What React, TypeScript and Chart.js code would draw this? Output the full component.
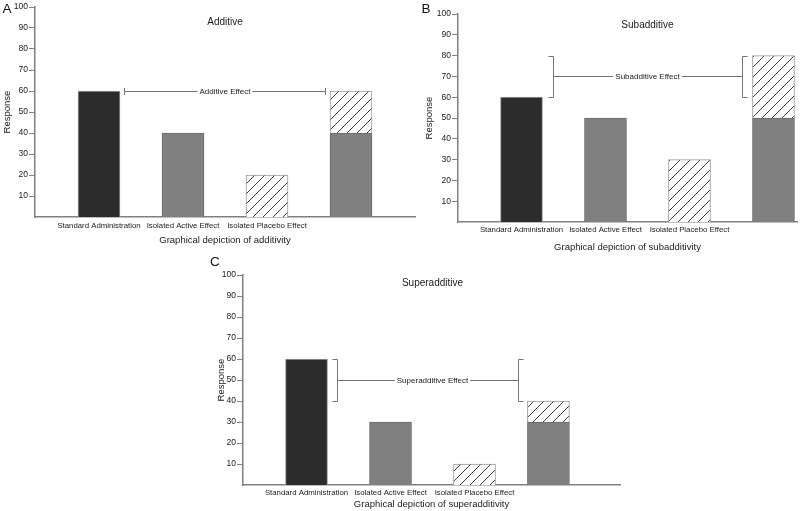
import React, { useEffect, useRef } from 'react';
import { Chart, registerables } from 'chart.js';

Chart.register(...registerables);

// ---------- data ----------
const categories = ['Standard Administration', 'Isolated Active Effect', 'Isolated Placebo Effect'];
const panelLetters = ['A', 'B', 'C'];
const panelTitles = ['Additive', 'Subadditive', 'Superadditive'];
const effectLabels = ['Additive Effect', 'Subadditive Effect', 'Superadditive Effect'];
const xAxisTitles = [
  'Graphical depiction of additivity',
  'Graphical depiction of subadditivity',
  'Graphical depiction of superadditivity',
];
const yAxisTitle = 'Response';
const yMin = 0;
const yMax = 100;
const yStep = 10;

const standardValues = [60, 60, 60];
const activeValues = [40, 50, 30];
const placeboValues = [20, 30, 10];

// x slots of the four bars (standard, active, placebo, combined)
const barSlotsA = [1, 2, 3, 4];
const barSlotsB = [1, 2, 3, 4];
const barSlotsC = [1, 2, 3, 3.88];
// x extent of the effect annotation
const effectSpanA = [1.3, 3.69];
const effectSpanB = [1.375, 3.63];
const effectSpanC = [1.363, 3.518];

// ---------- styles ----------
const FONT = 'Liberation Sans, Arial, Helvetica, sans-serif';
const TEXT = '#1a1a1a';
const AXIS = '#808080';
const LINE = '#747474';
const DARK = '#2c2c2c';
const GRAY = '#808080';

Chart.defaults.font.family = FONT;

interface PanelCfg {
  idx: number;
  slots: number[];
  span: number[];
  box: { left: number; top: number; width: number; height: number };
  pad: { left: number; right: number; top: number; bottom: number };
  yAxisWidth: number;
  xAxisHeight: number;
  xMin: number;
  xMax: number;
  tickPad: number;
  xTitlePad: number;
  yTitlePad: number;
  titleDy: number;
  letterPos: { x: number; y: number };
}

const panels: PanelCfg[] = [
  {
    idx: 0, slots: barSlotsA, span: effectSpanA,
    box: { left: 0, top: 0, width: 420, height: 250 },
    pad: { left: 0, right: 5, top: 7, bottom: 0 },
    yAxisWidth: 35, xAxisHeight: 33, xMin: 0.238, xMax: 4.762,
    tickPad: 4.3, xTitlePad: 4.3, yTitlePad: 1.3, titleDy: 15,
    letterPos: { x: 2.5, y: 2.5 },
  },
  {
    idx: 1, slots: barSlotsB, span: effectSpanB,
    box: { left: 420, top: 0, width: 380, height: 260 },
    pad: { left: 0, right: 3, top: 14, bottom: 0 },
    yAxisWidth: 38, xAxisHeight: 38, xMin: 0.244, xMax: 4.28,
    tickPad: 3.3, xTitlePad: 7.3, yTitlePad: 3.3, titleDy: 11.7,
    letterPos: { x: 1.5, y: 3 },
  },
  {
    idx: 2, slots: barSlotsC, span: effectSpanC,
    box: { left: 205, top: 250, width: 420, height: 261 },
    pad: { left: 0, right: 5, top: 25, bottom: 0 },
    yAxisWidth: 38, xAxisHeight: 26, xMin: 0.244, xMax: 4.732,
    tickPad: 3.6, xTitlePad: 1.3, yTitlePad: 10.8, titleDy: 8,
    letterPos: { x: 5, y: 5.5 },
  },
];

function makeHatch(ctx: CanvasRenderingContext2D): CanvasPattern | string {
  const p = document.createElement('canvas');
  p.width = 10;
  p.height = 10;
  const c = p.getContext('2d');
  if (!c) return '#fff';
  c.fillStyle = '#ffffff';
  c.fillRect(0, 0, 10, 10);
  c.strokeStyle = '#3a3a3a';
  c.lineWidth = 1;
  c.beginPath();
  c.moveTo(0, 10); c.lineTo(10, 0);
  c.moveTo(-5, 5); c.lineTo(5, -5);
  c.moveTo(5, 15); c.lineTo(15, 5);
  c.stroke();
  return ctx.createPattern(p, 'repeat') || '#fff';
}

function Panel({ cfg }: { cfg: PanelCfg }) {
  const ref = useRef<HTMLCanvasElement | null>(null);

  useEffect(() => {
    const canvas = ref.current;
    if (!canvas) return;
    const ctx0 = canvas.getContext('2d') as CanvasRenderingContext2D;
    const hatch = makeHatch(ctx0);
    const i = cfg.idx;
    const s = cfg.slots;
    const std = standardValues[i];
    const act = activeValues[i];
    const plc = placeboValues[i];

    const annot = {
      id: 'annot' + i,
      afterDatasetsDraw(chart: any) {
        const { ctx, chartArea, scales } = chart;
        const x = scales.x;
        const y = scales.y;
        ctx.save();
        // panel title
        ctx.fillStyle = TEXT;
        ctx.font = `10px ${FONT}`;
        ctx.textAlign = 'center';
        ctx.textBaseline = 'middle';
        const cx = x.getPixelForValue(2.5);
        ctx.fillText(panelTitles[i], cx, chartArea.top + cfg.titleDy);

        // effect annotation
        const combined = act + plc;
        const lo = Math.min(std, combined);
        const hi = Math.max(std, combined);
        const xl = Math.round(x.getPixelForValue(cfg.span[0])) + 0.5;
        const xr = Math.round(x.getPixelForValue(cfg.span[1])) + 0.5;
        const yLo = Math.round(y.getPixelForValue(lo)) + 0.5;
        const yHi = Math.round(y.getPixelForValue(hi)) + 0.5;
        const ym = Math.round(y.getPixelForValue((lo + hi) / 2)) + 0.5;
        ctx.strokeStyle = LINE;
        ctx.lineWidth = 1;
        ctx.beginPath();
        if (hi - lo < 1e-9) {
          ctx.moveTo(xl, ym - 3.5); ctx.lineTo(xl, ym + 3.5);
          ctx.moveTo(xr, ym - 3.5); ctx.lineTo(xr, ym + 3.5);
        } else {
          ctx.moveTo(xl - 5, yHi); ctx.lineTo(xl, yHi); ctx.lineTo(xl, yLo); ctx.lineTo(xl - 5, yLo);
          ctx.moveTo(xr + 5, yHi); ctx.lineTo(xr, yHi); ctx.lineTo(xr, yLo); ctx.lineTo(xr + 5, yLo);
        }
        ctx.font = `8px ${FONT}`;
        const w = ctx.measureText(effectLabels[i]).width;
        ctx.moveTo(xl, ym); ctx.lineTo(cx - w / 2 - 2, ym);
        ctx.moveTo(cx + w / 2 + 2, ym); ctx.lineTo(xr, ym);
        ctx.stroke();
        ctx.fillText(effectLabels[i], cx, ym);

        // panel letter
        ctx.font = `13.5px ${FONT}`;
        ctx.textAlign = 'left';
        ctx.textBaseline = 'top';
        ctx.fillStyle = '#111';
        ctx.fillText(panelLetters[i], cfg.letterPos.x, cfg.letterPos.y);
        ctx.restore();
      },
    };

    const chart = new Chart(canvas, {
      type: 'bar',
      data: {
        datasets: [
          {
            label: categories[0],
            data: [{ x: s[0], y: std }],
            backgroundColor: DARK,
            borderColor: '#9a9a9a',
            borderWidth: 1,
          },
          {
            label: categories[1],
            data: [{ x: s[1], y: act }, { x: s[3], y: act }],
            backgroundColor: GRAY,
            borderColor: '#6a6a6a',
            borderWidth: 1,
          },
          {
            label: categories[2],
            data: [{ x: s[2], y: plc }, { x: s[3], y: plc }],
            backgroundColor: hatch as any,
            borderColor: '#9a9a9a',
            borderWidth: 1,
          },
        ],
      },
      options: {
        animation: false,
        responsive: false,
        devicePixelRatio: 1,
        barThickness: 42,
        layout: { padding: cfg.pad },
        plugins: {
          legend: { display: false },
          tooltip: { enabled: false },
          title: { display: false },
        },
        scales: {
          x: {
            type: 'linear',
            stacked: true,
            offset: false,
            min: cfg.xMin,
            max: cfg.xMax,
            grid: { display: false, drawTicks: false, offset: false },
            border: { display: true, color: AXIS, width: 1.5 },
            afterBuildTicks: (axis: any) => {
              axis.ticks = categories.map((_, k) => ({ value: s[k] }));
            },
            afterFit: (scale: any) => { scale.height = cfg.xAxisHeight; },
            ticks: {
              autoSkip: false,
              maxRotation: 0,
              minRotation: 0,
              padding: cfg.tickPad,
              color: TEXT,
              font: { size: 7.8, family: FONT },
              callback: (_v: any, index: number) => categories[index],
            },
            title: {
              display: true,
              text: xAxisTitles[i],
              color: TEXT,
              font: { size: 9.5, family: FONT },
              padding: { top: 0, bottom: cfg.xTitlePad },
            },
          },
          y: {
            type: 'linear',
            stacked: true,
            min: yMin,
            max: yMax,
            grid: { display: true, drawOnChartArea: false, drawTicks: true, tickLength: 6, color: AXIS, lineWidth: 1 },
            border: { display: true, color: AXIS, width: 1.5 },
            afterBuildTicks: (axis: any) => {
              axis.ticks = axis.ticks.filter((t: any) => t.value !== yMin);
            },
            afterFit: (scale: any) => { scale.width = cfg.yAxisWidth; },
            ticks: {
              stepSize: yStep,
              padding: 1,
              color: TEXT,
              font: { size: 8.5, family: FONT },
            },
            title: {
              display: true,
              text: yAxisTitle,
              color: TEXT,
              font: { size: 9.5, family: FONT },
              padding: { top: cfg.yTitlePad, bottom: 0 },
            },
          },
        },
      } as any,
      plugins: [annot],
    });
    return () => chart.destroy();
  }, [cfg]);

  return (
    <canvas
      ref={ref}
      width={cfg.box.width}
      height={cfg.box.height}
      style={{ position: 'absolute', left: cfg.box.left, top: cfg.box.top, width: cfg.box.width, height: cfg.box.height }}
    />
  );
}

export default function App() {
  return (
    <div style={{ position: 'absolute', left: 0, top: 0, width: 800, height: 511, overflow: 'hidden', background: '#fff' }}>
      {panels.map((p) => (
        <Panel key={p.idx} cfg={p} />
      ))}
    </div>
  );
}
